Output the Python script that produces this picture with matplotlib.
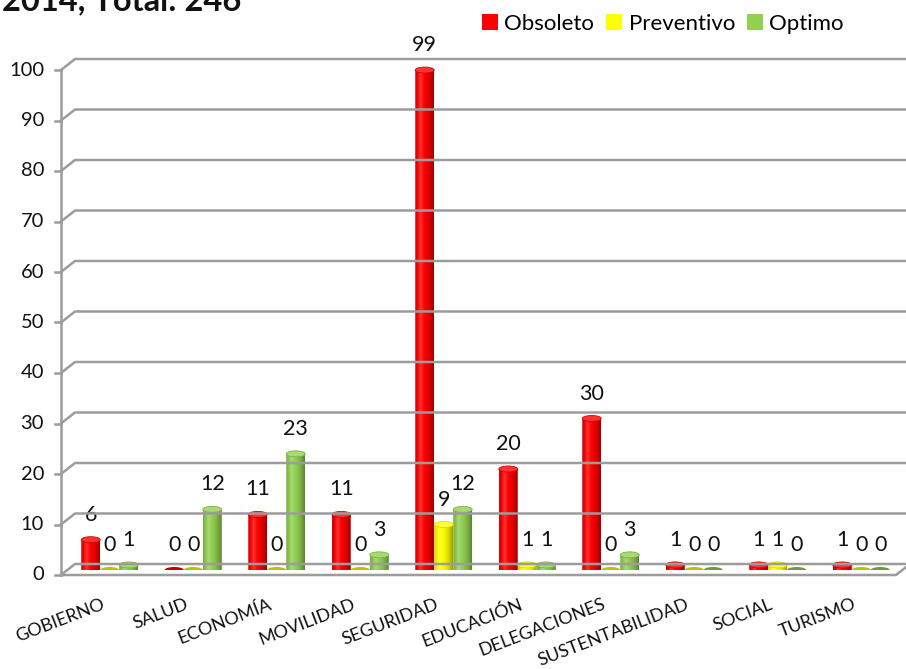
import numpy as np
import matplotlib
matplotlib.use('Agg')
import matplotlib.pyplot as plt
from matplotlib.lines import Line2D
from matplotlib.patches import Ellipse, Patch, PathPatch
from matplotlib.path import Path
from matplotlib.transforms import offset_copy

plt.rcParams['font.family'] = ['Lato', 'DejaVu Sans']

# datos
categorias = ['GOBIERNO', 'SALUD', 'ECONOMÍA', 'MOVILIDAD', 'SEGURIDAD',
              'EDUCACIÓN', 'DELEGACIONES', 'SUSTENTABILIDAD', 'SOCIAL', 'TURISMO']
obsoleto = [6, 0, 11, 11, 99, 20, 30, 1, 1, 1]
preventivo = [0, 0, 0, 0, 9, 1, 0, 0, 1, 0]
optimo = [1, 12, 23, 3, 12, 1, 3, 0, 0, 0]
series = [('Obsoleto', obsoleto), ('Preventivo', preventivo), ('Optimo', optimo)]
y_ticks = list(range(0, 101, 10))
titulo = '2014, Total: 246'

COLORS = {'Obsoleto': '#FF0000', 'Preventivo': '#FFFF00', 'Optimo': '#92D050'}
GRID = '#9c9c9c'
TXT = '#111111'

W, H = 906, 669
fig = plt.figure(figsize=(W / 100, H / 100), dpi=100)
fig.patch.set_facecolor('white')
ax = fig.add_axes([68 / W, (H - 570) / H, 835 / W, 505 / H])
ax.set_xlim(-0.5, 9.5)
ax.set_ylim(0, 100)
ax.axis('off')

bw = 0.2275
eh = 6 / 5.05          # alto de elipse en unidades de datos


def shade_row(hexcol, n=40):
    base = np.array(matplotlib.colors.to_rgb(hexcol))
    t = np.linspace(0, 1, n)
    s = np.where(t > 0.35, 1 - 0.38 * ((t - 0.35) / 0.65) ** 2,
                 1 - 0.18 * ((0.35 - t) / 0.35) ** 2)
    hl = 0.18 * np.exp(-((t - 0.3) / 0.12) ** 2)
    rgb = base[None, :] * s[:, None]
    rgb = rgb * (1 - hl[:, None]) + hl[:, None]
    return np.clip(rgb, 0, 1)[None, :, :]


def mix(hexcol, f, other=(1, 1, 1)):
    c = np.array(matplotlib.colors.to_rgb(hexcol))
    return tuple(c * (1 - f) + np.array(other) * f)


x = np.arange(len(categorias))
for k, (name, vals) in enumerate(series):
    col = COLORS[name]
    xs = x + (k - 1) * bw
    for xi, v in zip(xs, vals):
        x0, x1 = xi - bw / 2, xi + bw / 2
        if v == 0:
            ax.add_patch(Ellipse((xi, 0), bw, eh, facecolor=mix(col, 0.25, (0, 0, 0)),
                                 edgecolor='none', zorder=3))
            continue
        # contorno: mitad inferior de la elipse + cuerpo
        th = np.linspace(np.pi, 2 * np.pi, 30)
        px = list(xi + bw / 2 * np.cos(th)) + [x1, x0]
        py = list(eh / 2 * np.sin(th)) + [v, v]
        path = Path(np.column_stack([px + [px[0]], py + [py[0]]]), closed=True)
        clip = PathPatch(path, facecolor='none', edgecolor='none', transform=ax.transData)
        ax.add_patch(clip)
        im = ax.imshow(shade_row(col), extent=(x0, x1, -eh / 2, v), aspect='auto',
                       interpolation='bilinear', zorder=3)
        im.set_clip_path(clip)
        ax.add_patch(Ellipse((xi, v), bw, eh, facecolor=mix(col, 0.2),
                             edgecolor=mix(col, 0.15, (0, 0, 0)), linewidth=0.6, zorder=4))
    for xi, v in zip(xs, vals):
        ax.annotate(str(v), (xi, v), xytext=(0, 18), textcoords='offset points',
                    ha='center', va='center', fontsize=15.5, color=TXT)

ax.set_xlim(-0.5, 9.5)
ax.set_ylim(0, 100)

# marco 3D (piso, paredes, líneas de cuadrícula)
to_fig = fig.transFigure.inverted()


def pts(data_pt, dx, dy):
    p = ax.transData.transform(data_pt) + np.array([dx, dy])
    return to_fig.transform(p)


def line(points, **kw):
    arr = np.array(points)
    fig.add_artist(Line2D(arr[:, 0], arr[:, 1], transform=fig.transFigure,
                          color=GRID, linewidth=1.8, zorder=1, **kw))


FRONT = (-7, -5)
BACK = (7, 6)
for yv in y_ticks:
    line([pts((-0.5, yv), *FRONT), pts((-0.5, yv), *BACK), pts((9.6, yv), *BACK)])
    line([pts((-0.5, yv), FRONT[0] - 6, FRONT[1]), pts((-0.5, yv), *FRONT)])
    lx, ly = pts((-0.5, yv), FRONT[0] - 17, FRONT[1])
    fig.text(lx, ly, str(yv), ha='right', va='center', fontsize=14.5, color=TXT)
line([pts((-0.5, 0), *FRONT), pts((-0.5, 100), *FRONT)])
line([pts((-0.5, 0), *FRONT), pts((9.5, 0), *FRONT), pts((9.5, 0), *BACK)])

# etiquetas de categorías
lab_tr = offset_copy(ax.transData, fig=fig, x=0, y=-26, units='dots')
for xi, cat in zip(x, categorias):
    ax.text(xi - 0.1, 0, cat, transform=lab_tr, rotation=21, rotation_mode='anchor',
            ha='right', va='top', fontsize=13, color=TXT, clip_on=False)

# título (cortado arriba)
fig.text(2 / W, 1 - 10 / H, titulo, fontsize=23.5, fontweight='bold',
         va='baseline', ha='left', color=TXT)

# leyenda
handles = [Patch(facecolor=COLORS[n], edgecolor='none') for n, _ in series]
fig.legend(handles, [n for n, _ in series], loc='upper left',
           bbox_to_anchor=(482 / W, 1 - 14 / H), ncol=3, frameon=False,
           handlelength=0.7, handleheight=0.7, handletextpad=0.3,
           columnspacing=0.55, fontsize=16, borderpad=0, borderaxespad=0)

fig.savefig('out.png', dpi=100, facecolor='white')
